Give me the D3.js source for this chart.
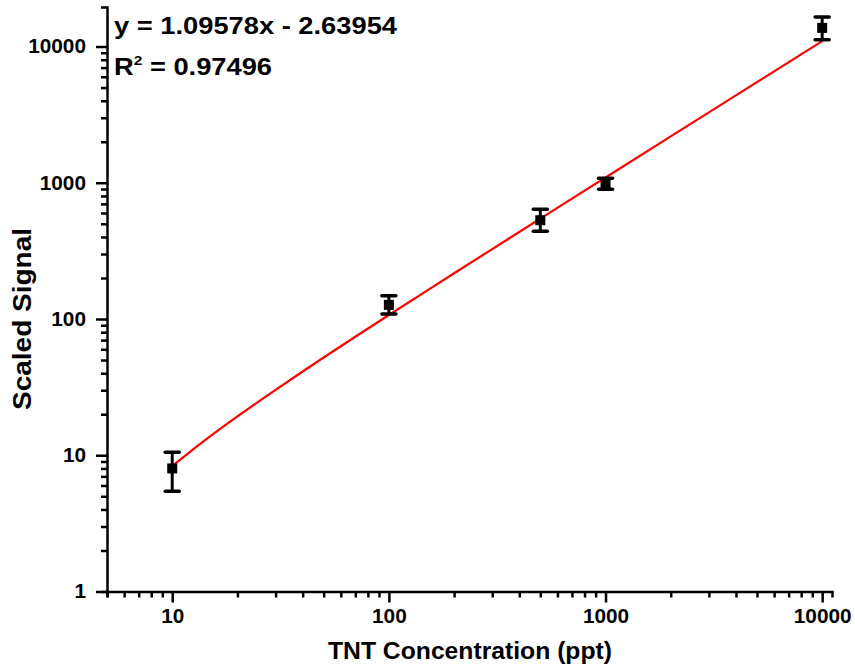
<!DOCTYPE html>
<html><head><meta charset="utf-8">
<script src="https://cdn.jsdelivr.net/npm/d3@7"></script>
<style>
body{margin:0;background:#fff;}
svg text{font-family:"Liberation Sans",Arial,sans-serif;font-weight:bold;fill:#000;}
</style></head>
<body><svg id="c" width="855" height="667"></svg>
<script>
const concentrations = [10, 100, 500, 1000, 10000];
const signals = [8.0, 127, 531, 985, 13700];
const errLow = [5.45, 109, 441, 897, 11200];
const errHigh = [10.5, 148, 640, 1080, 16500];
const xTickValues = [10, 100, 1000, 10000];
const yTickValues = [1, 10, 100, 1000, 10000];
const fitSlope = 1.09578, fitIntercept = -2.63954, rSquared = "0.97496";
const fitX = [10, 11, 12, 13, 15, 17, 20, 25, 30, 40, 50, 70, 100, 150, 200, 300, 500, 700, 1000, 2000, 5000, 10000];

const svg = d3.select("#c");
const m = {l:107, r:23, t:7, b:75};
const W = 855, H = 667;
const x = d3.scaleLog().domain([5, 11100]).range([m.l, W - m.r]);
const y = d3.scaleLog().domain([1, 19500]).range([591.5, m.t]);

function stretch(sel, k){
  sel.each(function(){
    const w = this.getComputedTextLength();
    if (w > 0) d3.select(this).attr("textLength", w*k).attr("lengthAdjust","spacingAndGlyphs");
  });
}

function minors(dom){
  const out=[];
  for(let p=-1;p<6;p++){for(let k=2;k<=9;k++){const v=k*Math.pow(10,p); if(v>=dom[0]&&v<=dom[1]) out.push(v);}}
  return out;
}
const gx = svg.append("g").attr("transform",`translate(0,${y(1)})`);
gx.call(d3.axisBottom(x).tickValues(minors(x.domain())).tickSize(6).tickFormat(""));
const gxM = gx.append("g").call(d3.axisBottom(x).tickValues(xTickValues).tickSize(11).tickPadding(6).tickFormat(d3.format("d")));
gxM.select(".domain").remove();
const gy = svg.append("g").attr("transform",`translate(${m.l},0)`);
gy.call(d3.axisLeft(y).tickValues(minors(y.domain())).tickSize(6).tickFormat(""));
const gyM = gy.append("g").call(d3.axisLeft(y).tickValues(yTickValues).tickSize(11).tickPadding(10).tickFormat(d3.format("d")));
gyM.select(".domain").remove();
svg.selectAll(".domain").attr("stroke","#000").attr("stroke-width",2.5);
svg.selectAll(".tick line").attr("stroke","#000").attr("stroke-width",2.5);
svg.selectAll(".tick text").attr("font-size",20).style("font-family","Liberation Sans, Arial").style("font-weight","bold");
stretch(svg.selectAll(".tick text"), 1.04);

// fit line
const line = d3.line().x(d=>x(d)).y(d=>y(fitSlope*d+fitIntercept));
svg.append("path").datum(fitX).attr("d",line).attr("fill","none").attr("stroke","#f00").attr("stroke-width",2.2);

// error bars
const eb = svg.append("g");
concentrations.forEach((c,i)=>{
  const cx=x(c);
  eb.append("line").attr("x1",cx).attr("x2",cx).attr("y1",y(errLow[i])).attr("y2",y(errHigh[i])).attr("stroke","#000").attr("stroke-width",3);
  [errLow[i],errHigh[i]].forEach(v=>{
    eb.append("line").attr("x1",cx-7).attr("x2",cx+7).attr("y1",y(v)).attr("y2",y(v)).attr("stroke","#000").attr("stroke-width",3.5).attr("stroke-linecap","round");
  });
  eb.append("rect").attr("x",cx-5).attr("y",y(signals[i])-5).attr("width",10).attr("height",10).attr("fill","#000");
});

// labels
svg.append("text").attr("x",470).attr("y",659).attr("text-anchor","middle").attr("font-size",23)
  .attr("textLength",284).attr("lengthAdjust","spacingAndGlyphs").text("TNT Concentration (ppt)");
svg.append("text").attr("transform",`translate(31,319) rotate(-90)`).attr("text-anchor","middle").attr("font-size",25)
  .attr("textLength",182).attr("lengthAdjust","spacingAndGlyphs").text("Scaled Signal");
svg.append("text").attr("x",114).attr("y",34).attr("font-size",23)
  .attr("textLength",283).attr("lengthAdjust","spacingAndGlyphs").text(`y = ${fitSlope}x - ${Math.abs(fitIntercept)}`);
const r = svg.append("text").attr("x",114).attr("y",75).attr("font-size",23);
r.append("tspan").text("R");
r.append("tspan").attr("dy",-10).attr("font-size",13).text("2");
r.append("tspan").attr("dy",10).text(" = " + rSquared);
r.attr("textLength",158).attr("lengthAdjust","spacingAndGlyphs");
</script></body></html>
